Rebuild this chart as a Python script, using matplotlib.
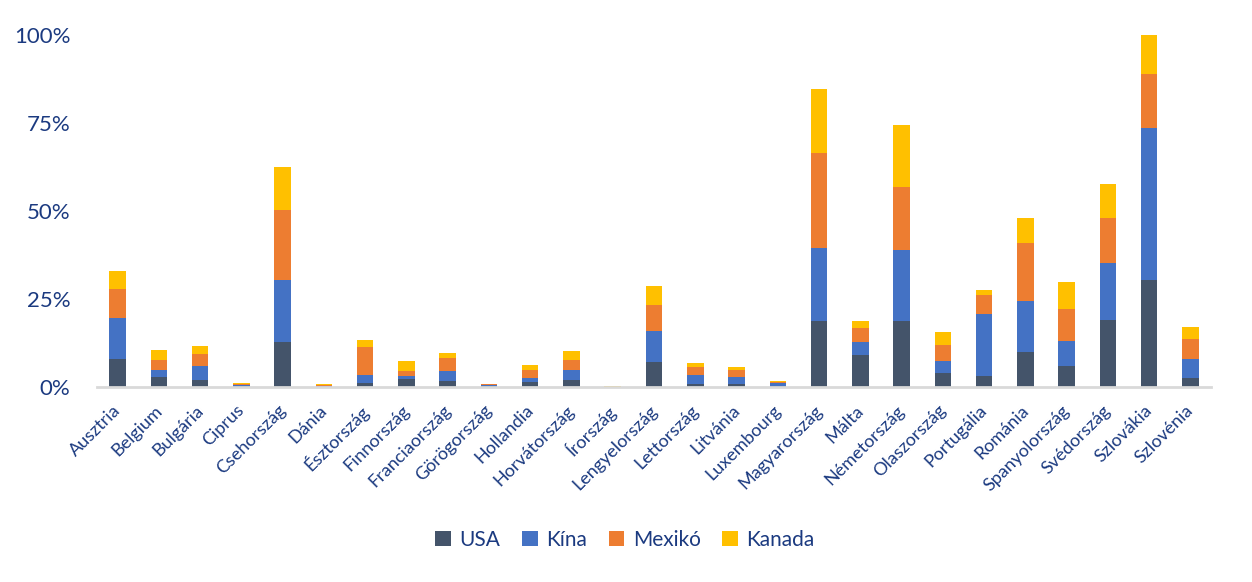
import matplotlib
matplotlib.use("Agg")
import matplotlib.pyplot as plt
import matplotlib.transforms as mtransforms
from matplotlib.ticker import FuncFormatter
import numpy as np

countries = ["Ausztria", "Belgium", "Bulgária", "Ciprus", "Csehország", "Dánia",
             "Észtország", "Finnország", "Franciaország", "Görögország", "Hollandia",
             "Horvátország", "Írország", "Lengyelország", "Lettország", "Litvánia",
             "Luxembourg", "Magyarország", "Málta", "Németország", "Olaszország",
             "Portugália", "Románia", "Spanyolország", "Svédország", "Szlovákia",
             "Szlovénia"]

usa    = [7.9, 2.8, 1.9, 0.2, 12.7, 0.1, 1.1, 2.3, 1.7, 0.4, 1.4, 2.0, 0.02, 7.0,
          0.9, 0.9, 0.4, 18.7, 9.0, 18.7, 3.9, 3.0, 9.9, 5.9, 19.0, 30.4, 2.5]
kina   = [11.6, 2.0, 4.0, 0.5, 17.6, 0.1, 2.3, 0.8, 2.8, 0.2, 1.2, 2.8, 0.03, 8.8,
          2.5, 1.9, 0.7, 20.7, 3.7, 20.2, 3.4, 17.7, 14.5, 7.1, 16.2, 43.2, 5.4]
mexiko = [8.3, 2.8, 3.4, 0.2, 19.9, 0.5, 7.9, 1.4, 3.7, 0.15, 2.2, 2.8, 0.05, 7.4,
          2.2, 2.0, 0.3, 27.1, 4.0, 18.0, 4.6, 5.4, 16.5, 9.1, 12.8, 15.4, 5.7]
kanada = [5.1, 2.8, 2.3, 0.2, 12.4, 0.1, 2.0, 2.8, 1.4, 0.1, 1.4, 2.6, 0.2, 5.4,
          1.2, 0.8, 0.3, 18.1, 2.0, 17.5, 3.7, 1.4, 7.1, 7.7, 9.6, 11.0, 3.4]

series = [("USA", usa, "#44546A"), ("Kína", kina, "#4472C4"),
          ("Mexikó", mexiko, "#ED7D31"), ("Kanada", kanada, "#FFC000")]

text_color = "#1B3A80"
plt.rcParams['font.family'] = ['Lato', 'DejaVu Sans']

fig = plt.figure(figsize=(12.52, 5.82), dpi=100)
ax = fig.add_axes([97/1252, 1-387/582, (1211-97)/1252, (387-35)/582])

x = np.arange(len(countries))
bottom = np.zeros(len(countries))
for name, vals, col in series:
    v = np.array(vals)
    ax.bar(x, v, 0.4, bottom=bottom, color=col, label=name, zorder=2)
    bottom += v

ax.set_xlim(-0.5, len(countries) - 0.5)
ax.set_ylim(0, 100)
ax.set_yticks([0, 25, 50, 75, 100])
ax.yaxis.set_major_formatter(FuncFormatter(lambda v, p: f"{int(v)}%"))
ax.tick_params(axis='y', length=0, pad=19, labelsize=16, labelcolor=text_color)
ax.set_xticks(x)
ax.set_xticklabels(countries, rotation=45, ha='right', va='center',
                   rotation_mode='anchor', fontsize=13, color=text_color)
ax.tick_params(axis='x', length=0, pad=15)
offset = mtransforms.ScaledTranslation(0.5/100, 0, fig.dpi_scale_trans)
for lbl in ax.get_xticklabels():
    lbl.set_transform(lbl.get_transform() + offset)

for s in ["top", "right", "left"]:
    ax.spines[s].set_visible(False)
ax.spines["bottom"].set_color("#D9D9D9")
ax.spines["bottom"].set_linewidth(2)
ax.spines["bottom"].set_zorder(3)

leg = fig.legend(loc='center', bbox_to_anchor=(625/1252, 1-540/582), ncol=4,
                 frameon=False, fontsize=15, handlelength=0.75, handleheight=0.75,
                 handletextpad=0.4, columnspacing=1.05, labelcolor=text_color)

fig.savefig("out.png", dpi=100)
